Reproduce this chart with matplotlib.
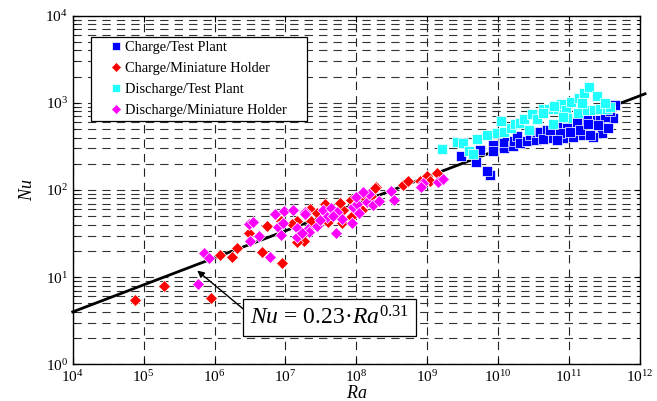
import matplotlib
matplotlib.use("Agg")
import matplotlib.pyplot as plt
from matplotlib.patches import Rectangle
import numpy as np

plt.rcParams['font.family'] = ['Liberation Serif', 'DejaVu Serif']
plt.rcParams['mathtext.fontset'] = 'custom'
plt.rcParams['mathtext.rm'] = 'Liberation Serif'
plt.rcParams['mathtext.it'] = 'Liberation Serif:italic'

# ---------------- data ----------------
charge_plant_ra = [2.96e9, 4.82e9, 5.54e9, 7.67e9, 7.03e9, 8.37e9, 8.37e9, 1.21e10, 1.21e10,
                   1.62e10, 1.67e10, 1.86e10, 2.03e10, 2.55e10, 2.80e10, 3.42e10, 3.56e10,
                   3.89e10, 4.83e10, 6.69e10, 9.25e10, 1.28e11, 1.77e11, 2.45e11, 3.40e11,
                   4.12e11, 4.44e11, 2.88e11, 2.19e11, 1.58e11, 1.15e11, 8.28e10, 6.00e10,
                   4.33e10, 5.38e10, 7.45e10, 1.03e11, 1.43e11, 1.97e11, 2.73e11, 3.21e11,
                   3.54e11, 2.56e11, 1.85e11, 6.76e10, 3.78e11]
charge_plant_nu = [245, 211, 291, 149, 166, 328, 284, 305, 356,
                   324, 368, 413, 343, 365, 431, 375, 469,
                   467, 494, 533, 590, 608, 636, 636, 693,
                   665, 944, 448, 409, 428, 409, 392, 392,
                   382, 488, 448, 467, 488, 428, 636, 689,
                   514, 557, 572, 375, 806]

charge_mini_ra = [7.6e4, 1.94e5, 8.9e5, 1.18e6, 1.78e6, 2.07e6, 3.09e6, 4.62e6, 5.55e6,
                  8.95e6, 8.75e6, 1.44e7, 1.83e7, 2.22e7, 2.32e7, 2.81e7, 3.58e7, 3.50e7,
                  3.98e7, 6.55e7, 5.89e7, 8.49e7, 1.21e8, 1.59e8, 1.89e8, 6.34e7, 8.49e7,
                  1.22e7, 1.47e7, 1.23e8, 1.83e8, 4.59e8, 5.30e8, 7.91e8, 9.91e8, 1.10e9,
                  1.39e9]
charge_mini_nu = [5.5, 8.0, 5.7, 17.8, 17.0, 21.6, 32.4, 19.3, 38.6,
                  14.5, 43.7, 43.7, 26.2, 61.0, 44.4, 54.5, 69.1, 46.5,
                  43.3, 59.0, 70.4, 76.8, 59.0, 85.4, 109, 42.2, 49.4,
                  40.4, 25.1, 84.7, 105, 113, 128, 127, 146, 127,
                  158]

discharge_plant_ra = [1.60e9, 2.65e9, 3.16e9, 3.92e9, 4.46e9, 4.98e9, 7.03e9, 9.53e9, 1.10e10,
                      1.21e10, 1.52e10, 1.73e10, 2.03e10, 2.33e10, 2.75e10, 3.00e10, 3.49e10,
                      4.25e10, 5.26e10, 5.87e10, 6.90e10, 7.62e10, 9.06e10, 9.44e10, 1.07e11,
                      1.32e11, 1.37e11, 1.63e11, 1.77e11, 1.93e11, 2.27e11, 2.45e11, 1.51e11,
                      2.73e11, 3.40e11, 3.78e11, 3.21e11, 4.33e10, 6.12e10, 8.28e10]
discharge_plant_nu = [296, 352, 343, 280, 257, 382, 428, 455, 619,
                      467, 519, 568, 582, 647, 488, 739, 647,
                      844, 844, 572, 844, 970, 828, 665, 1014,
                      759, 1128, 1288, 828, 1508, 828, 1208, 988,
                      844, 844, 903, 988, 759, 920, 693]

discharge_mini_ra = [7.11e5, 8.36e5, 5.85e5, 3.20e6, 4.20e6, 3.09e6, 3.45e6, 6.00e6, 7.85e6,
                     8.57e6, 7.19e6, 9.55e6, 1.27e7, 1.44e7, 1.47e7, 1.89e7, 1.87e7, 2.08e7,
                     2.76e7, 3.36e7, 3.82e7, 4.44e7, 5.28e7, 4.73e7, 6.34e7, 9.06e7, 1.03e8,
                     1.43e8, 9.89e7, 1.52e8, 1.23e8, 2.17e7, 3.07e7, 5.12e7, 1.69e7, 9.33e6,
                     8.59e7, 1.09e8, 1.73e8, 2.11e8, 3.08e8, 3.43e8, 8.79e8, 1.43e9, 1.68e9,
                     8.17e8]
discharge_mini_nu = [19.1, 16.7, 8.28, 26.2, 29.7, 40.7, 42.9, 17.0, 37.3,
                     30.2, 52.6, 57.0, 58.5, 36.4, 29.1, 55.9, 52.6, 35.4,
                     38.6, 59.0, 49.4, 62.2, 56.4, 50.7, 46.9, 64.3, 69.1,
                     73.4, 83.8, 89.3, 95.7, 33.3, 45.3, 31.9, 31.9, 41.5,
                     41.5, 54.1, 67.3, 75.4, 96.2, 76.8, 121, 124, 134,
                     109]

fit_coef = 0.23
fit_exp = 0.31
fit_ra_range = [1e4, 1.18e12]

x_decades = [4, 5, 6, 7, 8, 9, 10, 11, 12]
y_decades = [0, 1, 2, 3, 4]

series_labels = ["Charge/Test Plant", "Charge/Miniature Holder",
                 "Discharge/Test Plant", "Discharge/Miniature Holder"]

# ---------------- figure ----------------
fig = plt.figure(figsize=(6.57, 4.01), dpi=100)
ax = fig.add_axes([0.1107, 0.0915, 0.8634, 0.8693])

ax.set_xscale('log')
ax.set_yscale('log')
ax.set_xlim(1e4, 1e12)
ax.set_ylim(1, 1e4)

ax.set_axisbelow(True)
ax.set_xticks([10.0 ** d for d in x_decades])
ax.set_xticklabels([r"$10^{%d}$" % d for d in x_decades])
ax.set_yticks([10.0 ** d for d in y_decades])
ax.set_yticklabels([r"$10^{%d}$" % d for d in y_decades])
ax.xaxis.set_minor_locator(matplotlib.ticker.NullLocator())
y_minor = [m * 10.0 ** d for d in y_decades[:-1] for m in range(2, 10)]
ax.set_yticks(y_minor, minor=True)
ax.yaxis.set_minor_formatter(matplotlib.ticker.NullFormatter())

ax.grid(True, which='major', axis='x', color='#222222', lw=0.8, dashes=(7.5, 5.5))
ax.grid(True, which='both', axis='y', color='#333333', lw=0.8, dashes=(7.5, 5.5))

ax.tick_params(which='both', direction='in', top=True, right=True, labelsize=11)
ax.tick_params(which='major', length=4)
ax.tick_params(which='minor', length=2)
ax.tick_params(axis='x', pad=3.5)

# fit line
fr = np.logspace(np.log10(fit_ra_range[0]), np.log10(fit_ra_range[1]), 50)
ax.plot(fr, fit_coef * fr ** fit_exp, color='black', lw=2.0, zorder=2, clip_on=False)

ms_sq = 6.5
ms_d = 5.7
ax.plot(charge_plant_ra, charge_plant_nu, 's', color='#0000ff', mec='white', mew=0.5,
        ms=ms_sq, label=series_labels[0], zorder=3)
ax.plot(charge_mini_ra, charge_mini_nu, 'D', color='#ff0000', mec='white', mew=0.5,
        ms=ms_d, label=series_labels[1], zorder=3)
ax.plot(discharge_plant_ra, discharge_plant_nu, 's', color='#22ffff', mec='white', mew=0.5,
        ms=ms_sq, label=series_labels[2], zorder=3)
ax.plot(discharge_mini_ra, discharge_mini_nu, 'D', color='#ff00ff', mec='white', mew=0.5,
        ms=ms_d, label=series_labels[3], zorder=3)

# legend frame drawn as a rectangle, legend itself frameless
ax.add_patch(Rectangle((0.0323, 0.698), 0.3807, 0.241, transform=ax.transAxes,
                       facecolor='white', edgecolor='black', lw=0.9, zorder=4))
leg = ax.legend(loc='upper left', bbox_to_anchor=(0.066, 0.928), fontsize=10.4,
                handlelength=0.8, handletextpad=0.2, borderpad=0, labelspacing=0.55,
                frameon=False, markerscale=0.85, borderaxespad=0)
leg.set_zorder(5)

ax.annotate(r"$Nu$ = 0.23·$Ra^{0.31}$", xy=(5.7e5, 11.9), xytext=(4.2e7, 3.45),
            fontsize=17, ha='center', va='center',
            bbox=dict(boxstyle='square,pad=0.28', fc='white', ec='black', lw=0.9),
            arrowprops=dict(arrowstyle='-|>', color='black', lw=1.0, mutation_scale=10,
                            relpos=(0.0, 0.62), shrinkA=0, shrinkB=0),
            zorder=6)

ax.set_xlabel(r"$Ra$", fontsize=13, labelpad=0)
ax.set_ylabel(r"$Nu$", fontsize=13, labelpad=7)

for s in ax.spines.values():
    s.set_linewidth(1.0)

fig.savefig("out.png", dpi=100)
